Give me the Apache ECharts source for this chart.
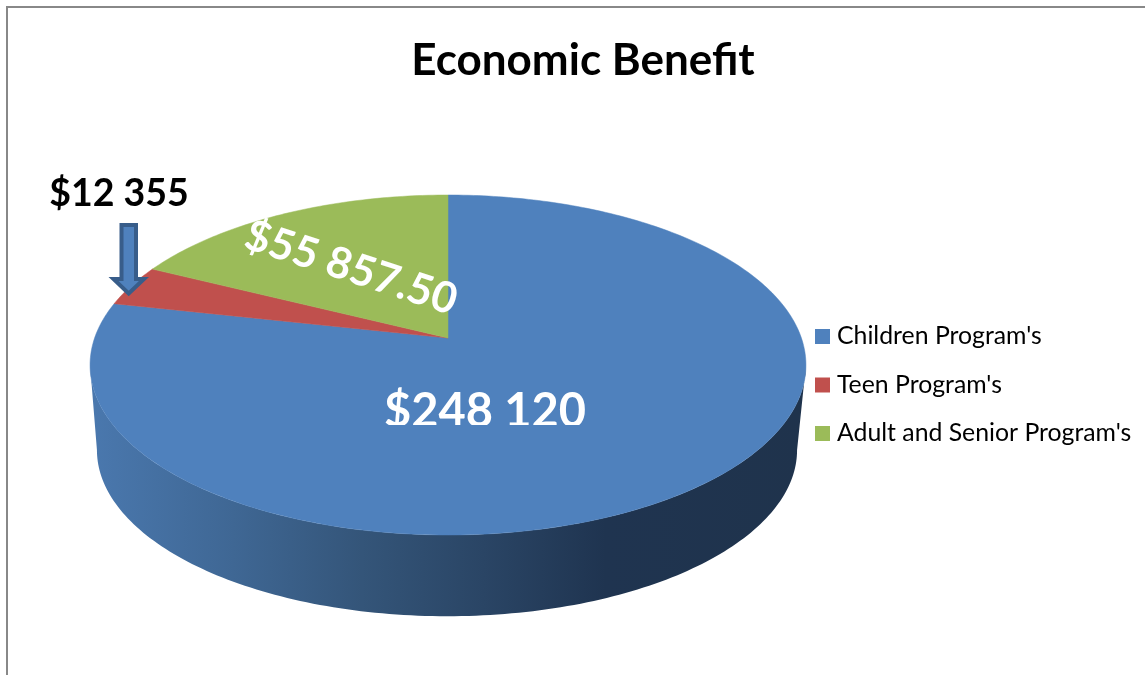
<!DOCTYPE html>
<html>
<head>
<meta charset="utf-8">
<title>Economic Benefit</title>
<style>html,body{margin:0;padding:0;background:#fff}#chart{width:1145px;height:675px}</style>
<script src="https://cdn.jsdelivr.net/npm/echarts@6/dist/echarts.min.js"></script>
</head>
<body>
<div id="chart"></div>
<script>
// Program names, dollar values and the labels printed for them
const programs = ["Children Program's", "Teen Program's", "Adult and Senior Program's"];
const benefits = [248120, 12355, 55857.5];
const benefitLabels = ['$248 120', '$12 355', '$55 857.50'];
const sliceColors = ['#4f81bd', '#c0504d', '#9bbb59'];

const total = benefits.reduce((a, b) => a + b, 0);
const FONT = 'Lato, "Open Sans", sans-serif';

// Pie lying on a tilted plane: a unit circle seen through a perspective projection
const apex = { x: 448, y: 338 };
const persp = { rx: 353.4, ry: 165.7, k: 0.1588 };
const project = a => {
  const u = Math.sin(a), v = Math.cos(a), d = 1 + persp.k * v;
  return [apex.x + persp.rx * u / d, apex.y - persp.ry * v / d];
};
// Lower rim of the disc, slightly narrower and shifted down from the upper one
const lowerRim = p => [447 + (p[0] - 448) * 0.978, 450 + (p[1] - 365) * 0.978];

const arcPoints = (from, to, steps) => {
  const pts = [];
  for (let i = 0; i <= steps; i++) pts.push(project(from + (to - from) * i / steps));
  return pts;
};

const sliceAngles = benefits.reduce((acc, v) => {
  const start = acc.length ? acc[acc.length - 1][1] : 0;
  acc.push([start, start + v / total * Math.PI * 2]);
  return acc;
}, []);

function wallShape(api) {
  const edgeAngle = Math.PI - Math.acos(persp.k);   // angle of the widest point
  const top = arcPoints(edgeAngle, Math.PI * 2 - edgeAngle, 160);
  const bottom = top.map(lowerRim).reverse();
  return {
    type: 'polygon',
    shape: { points: top.concat(bottom) },
    style: {
      fill: new echarts.graphic.LinearGradient(90, 0, 806, 0, [
        { offset: 0, color: '#4a78ae' },
        { offset: 0.2, color: '#3f6794' },
        { offset: 0.38, color: '#345579' },
        { offset: 0.55, color: '#2a4565' },
        { offset: 0.72, color: '#1f3450' },
        { offset: 1, color: '#1f334c' }
      ], true)
    }
  };
}

function sliceSeries(index, label) {
  return {
    type: 'custom',
    name: programs[index],
    coordinateSystem: 'none',
    data: [[benefits[index]]],
    itemStyle: { color: sliceColors[index] },
    silent: true,
    animation: false,
    z: 2 + index,
    renderItem: (params, api) => {
      const [a0, a1] = sliceAngles[index];
      const steps = Math.max(8, Math.round((a1 - a0) * 60));
      const children = [];
      if (index === 0) children.push(wallShape(api));
      children.push({
        type: 'polygon',
        shape: { points: [[apex.x, apex.y]].concat(arcPoints(a0, a1, steps)) },
        style: { fill: sliceColors[index], stroke: sliceColors[index], lineWidth: 0.5 }
      });
      children.push(label());
      return { type: 'group', children };
    }
  };
}

const textStyle = (text, size, fill) => ({
  text, fill, font: `bold ${size}px ${FONT}`, align: 'center', verticalAlign: 'middle'
});

const option = {
  backgroundColor: '#ffffff',
  animation: false,
  title: {
    text: 'Economic Benefit',
    left: 583, top: 39, padding: 0, textAlign: 'center',
    textStyle: { fontFamily: FONT, fontWeight: 'bold', fontSize: 44, color: '#000000' }
  },
  legend: {
    orient: 'vertical',
    left: 810, top: 319,
    itemWidth: 15, itemHeight: 15, itemGap: 23.5,
    selectedMode: false,
    icon: 'rect',
    data: programs,
    textStyle: { fontFamily: FONT, fontSize: 24.8, color: '#000000', padding: [0, 0, 0, 2], height: 24, lineHeight: 24 }
  },
  graphic: [
    // Chart frame, running past the right and bottom edges
    { type: 'rect', z: 0, silent: true,
      shape: { x: 7, y: 7, width: 1300, height: 800 },
      style: { fill: 'none', stroke: '#888888', lineWidth: 2 } },
    // Arrow pointing at the smallest slice
    { type: 'polygon', z: 100, silent: true,
      shape: { points: [[121.5, 225], [136, 225], [136, 279], [144, 279], [128.7, 293.5], [113.5, 279], [121.5, 279]] },
      style: { fill: '#4f81bd', stroke: '#385d8a', lineWidth: 4, lineJoin: 'miter' } }
  ],
  series: [
    sliceSeries(0, () => ({
      type: 'text', x: 485, y: 412,
      style: textStyle(benefitLabels[0], 47, '#ffffff'),
      // The baseline of this label is trimmed by the plot's text box
      clipPath: { type: 'rect', shape: { x: -130, y: -40, width: 260, height: 53 } }
    })),
    sliceSeries(1, () => ({
      type: 'text', x: 119, y: 194,
      style: textStyle(benefitLabels[1], 37.5, '#000000')
    })),
    sliceSeries(2, () => ({
      type: 'text', x: 351, y: 268, rotation: -18 * Math.PI / 180,
      style: textStyle(benefitLabels[2], 43, '#ffffff')
    }))
  ]
};

echarts.init(document.getElementById('chart'), null, { renderer: 'canvas' }).setOption(option);
</script>
</body>
</html>
